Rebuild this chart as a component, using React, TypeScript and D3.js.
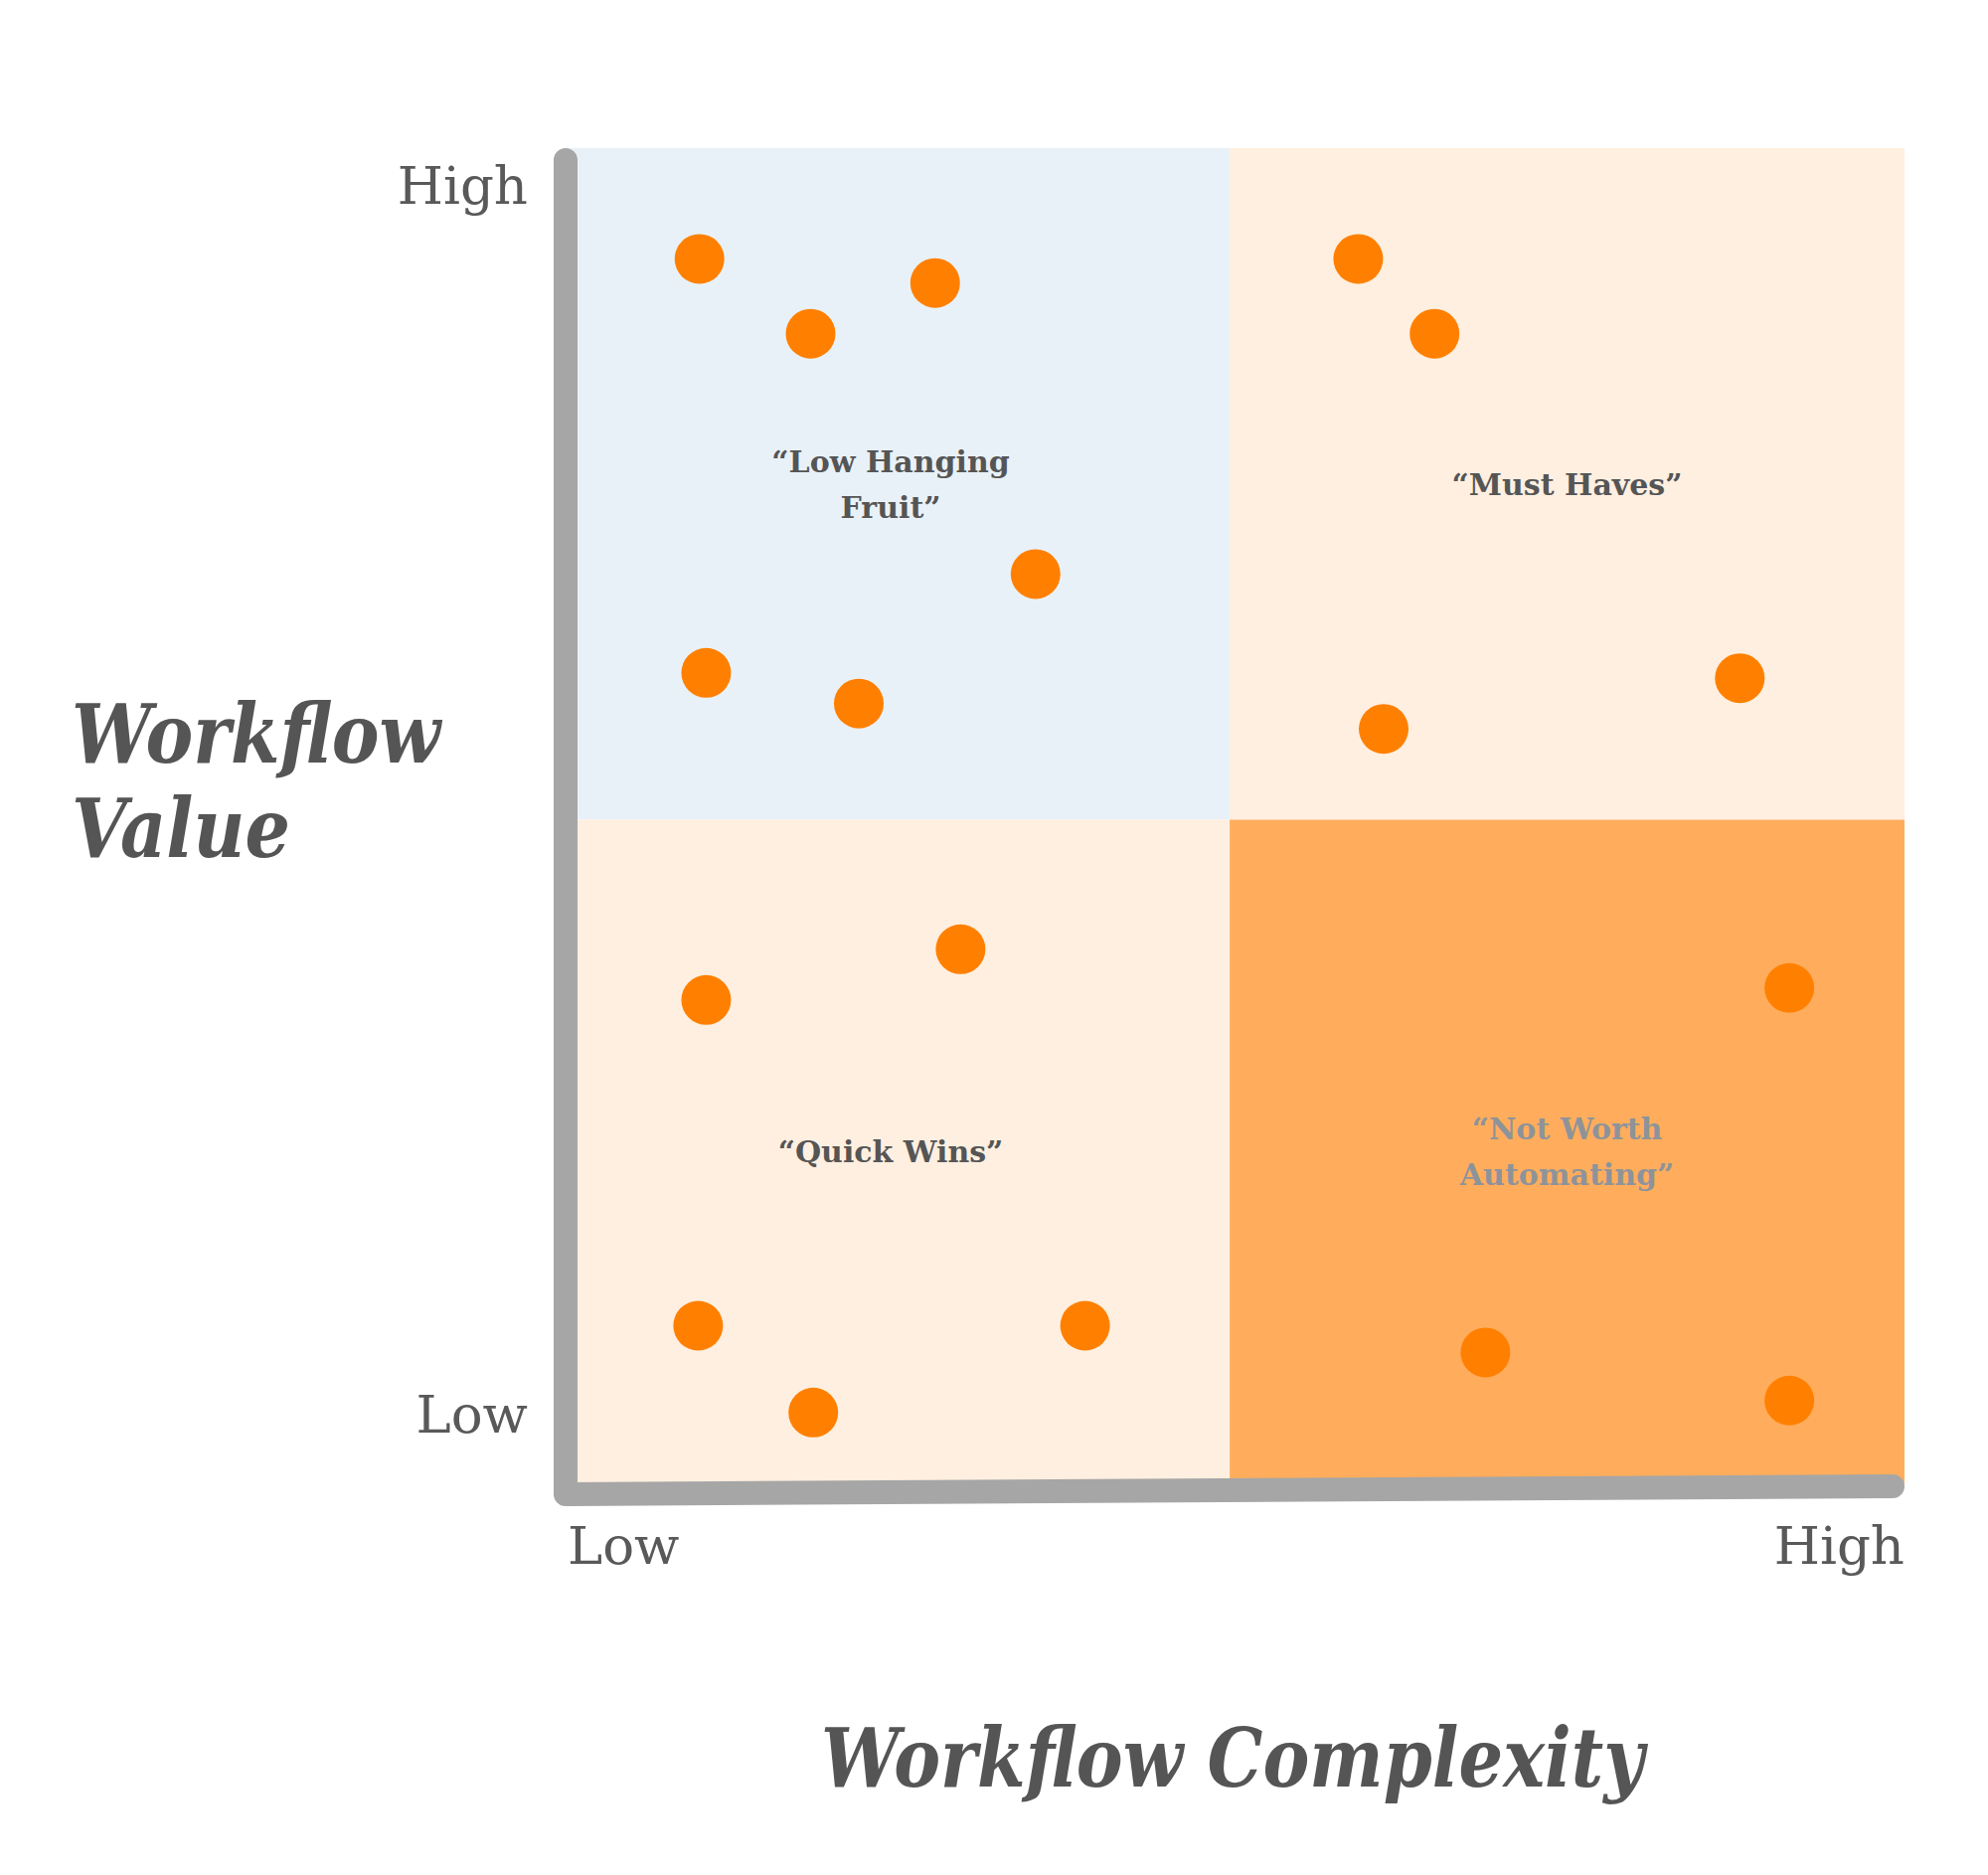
import React from "react";
import * as d3 from "d3";

// ---- data ----
const pointX = [1.0, 1.83, 2.76, 3.51, 1.05, 2.19, 5.92, 6.49, 8.77, 6.11, 2.95, 1.05, 9.14, 0.99, 3.88, 1.85, 6.87, 9.14];
const pointY = [9.17, 8.61, 8.99, 6.81, 6.07, 5.84, 9.17, 8.61, 6.03, 5.65, 4.0, 3.62, 3.71, 1.18, 1.18, 0.53, 0.98, 0.62];

const quadrantNames = ["Low Hanging Fruit", "Must Haves", "Quick Wins", "Not Worth Automating"];
const quadrantLines = [["“Low Hanging", "Fruit”"], ["“Must Haves”"], ["“Quick Wins”"], ["“Not Worth", "Automating”"]];
const quadrantX0 = [0, 4.96, 0, 4.96];
const quadrantX1 = [4.96, 10, 4.96, 10];
const quadrantY0 = [4.97, 4.97, 0, 0];
const quadrantY1 = [10, 10, 4.97, 4.97];
const quadrantFill = ["#E9F1F8", "#FEEFE0", "#FEEFE0", "#FFAD5C"];
const quadrantText = ["#555555", "#555555", "#555555", "#8E939A"];

const tickLabels = ["Low", "High"];
const xTitle = ["Workflow Complexity"];
const yTitle = ["Workflow", "Value"];

const W = 2000;
const H = 1886;

export default function App() {
  const x = d3.scaleLinear().domain([0, 10]).range([569, 1916]);
  const y = d3.scaleLinear().domain([0, 10]).range([1492, 149]);

  const axisPath = d3.line()([
    [x(0), y(10) + 12],
    [x(0), y(0) + 11],
    [x(10) - 12, y(0) + 3],
  ]);

  const serif = "'DejaVu Serif', serif";
  const textGrey = "#555555";
  const yTitleLen = [371, 220];

  return (
    <svg width={W} height={H} style={{ position: "absolute", left: 0, top: 0, background: "#fff" }}>
      {quadrantNames.map((n, i) => (
        <rect
          key={n}
          x={x(quadrantX0[i])}
          y={y(quadrantY1[i])}
          width={x(quadrantX1[i]) - x(quadrantX0[i])}
          height={y(quadrantY0[i]) - y(quadrantY1[i])}
          fill={quadrantFill[i]}
        />
      ))}
      {quadrantNames.map((n, i) => {
        const cx = (x(quadrantX0[i]) + x(quadrantX1[i])) / 2 - (quadrantX0[i] === 0 ? 7 : 0);
        const cy = (y(quadrantY0[i]) + y(quadrantY1[i])) / 2;
        const lines = quadrantLines[i];
        const lh = 46;
        const start = cy + 11 - ((lines.length - 1) * lh) / 2;
        return (
          <text
            key={n + "t"}
            textAnchor="middle"
            fontFamily={serif}
            fontWeight="bold"
            fontSize={30}
            fill={quadrantText[i]}
          >
            {lines.map((l, j) => (
              <tspan key={j} x={cx} y={start + j * lh}>
                {l}
              </tspan>
            ))}
          </text>
        );
      })}
      {pointX.map((px, i) => (
        <circle key={i} cx={x(px)} cy={y(pointY[i])} r={25} fill="#FF8000" />
      ))}
      <path d={axisPath ?? ""} fill="none" stroke="#A6A6A6" strokeWidth={24} strokeLinecap="round" strokeLinejoin="round" />

      {/* y tick labels */}
      <text x={531} y={205} textAnchor="end" fontFamily={serif} fontSize={53} fill="#595959">
        {tickLabels[1]}
      </text>
      <text x={531} y={1441} textAnchor="end" fontFamily={serif} fontSize={53} fill="#595959">
        {tickLabels[0]}
      </text>
      {/* x tick labels */}
      <text x={571} y={1573} textAnchor="start" fontFamily={serif} fontSize={53} fill="#595959">
        {tickLabels[0]}
      </text>
      <text x={1916} y={1573} textAnchor="end" fontFamily={serif} fontSize={53} fill="#595959">
        {tickLabels[1]}
      </text>

      {/* axis titles */}
      <text
        x={1240}
        y={1797}
        textAnchor="middle"
        fontFamily={serif}
        fontWeight="bold"
        fontStyle="italic"
        fontSize={82}
        fill={textGrey}
        textLength={828}
        lengthAdjust="spacingAndGlyphs"
      >
        {xTitle[0]}
      </text>
      {yTitle.map((t, j) => (
        <text
          key={t}
          x={72}
          y={767 + j * 95}
          fontFamily={serif}
          fontWeight="bold"
          fontStyle="italic"
          fontSize={82}
          fill={textGrey}
          textLength={yTitleLen[j]}
          lengthAdjust="spacingAndGlyphs"
        >
          {t}
        </text>
      ))}
    </svg>
  );
}
